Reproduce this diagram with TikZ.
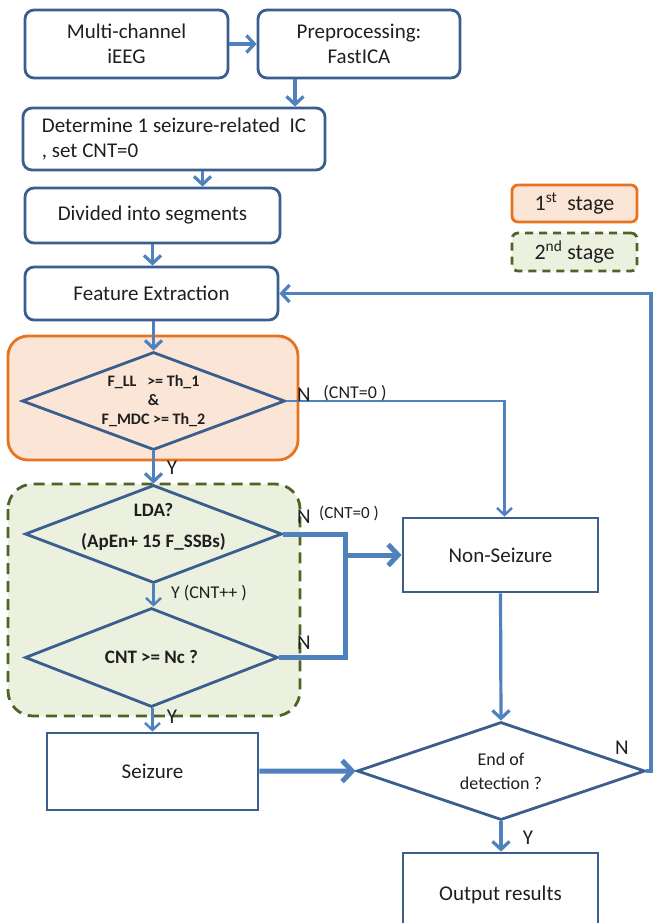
\documentclass[tikz,border=0pt]{standalone}
\usepackage{fontspec}
\setmainfont{Carlito}
\usepackage{xcolor}
\usetikzlibrary{shapes.geometric,arrows.meta}
\definecolor{boxblue}{HTML}{3A5F8E}
\definecolor{lineblue}{HTML}{4F81BD}
\definecolor{stageorange}{HTML}{E8731E}
\definecolor{stageorangefill}{HTML}{FBE5D6}
\definecolor{stagegreen}{HTML}{4F6228}
\definecolor{stagegreenfill}{HTML}{EBF1DE}
\definecolor{txt}{HTML}{1F1F1F}

\begin{document}
\begin{tikzpicture}[x=1pt,y=-1pt]
\tikzstyle{rbox} = [draw=boxblue,line width=2.8pt,rounded corners=9pt,text=txt,font=\fontsize{21}{25}\selectfont,align=center,inner sep=0];
\tikzstyle{sqbox} = [draw=boxblue,line width=2.8pt,text=txt,font=\fontsize{21}{25}\selectfont,align=center,inner sep=0];
\tikzstyle{decision} = [diamond,draw=boxblue,line width=2.8pt,inner sep=0];
\tikzstyle{arr} = [draw=lineblue,line width=3.2pt,-{Straight Barb[length=8pt,width=17pt]}];
\tikzstyle{thinarr} = [draw=lineblue,line width=2.4pt,-{Straight Barb[length=7pt,width=15pt]}];
\tikzstyle{thickarr} = [draw=lineblue,line width=5pt,-{Straight Barb[length=10pt,width=21pt]}];
\tikzstyle{yn} = [text=txt,font=\fontsize{21}{22}\selectfont,inner sep=0];
\tikzstyle{cnt} = [text=txt,font=\fontsize{18}{20}\selectfont,inner sep=0];
\useasboundingbox (0,0) rectangle (653,923);
\fill[white] (0,0) rectangle (653,923);
\draw[stageorange,fill=stageorangefill,line width=2.8pt,rounded corners=20pt] (8,336) rectangle (298,460);
\draw[stagegreen,fill=stagegreenfill,line width=2.8pt,dashed,dash pattern=on 11pt off 7pt,rounded corners=25pt] (8,484) rectangle (300,716);
\node [rbox,minimum width=203,minimum height=68] (iEEG) at (126.5,44) {Multi-channel\\iEEG};
\node [rbox,minimum width=202,minimum height=68] (prep) at (359,44) {Preprocessing:\\FastICA};
\node [rbox,minimum width=302,minimum height=62,align=left] (ic) at (174,139) {Determine 1 seizure-related~ IC\\, set CNT=0};
\node [rbox,minimum width=255,minimum height=55] (seg) at (152.5,215.5) {Divided into segments};
\node [rbox,minimum width=253,minimum height=53] (feat) at (151.5,293.5) {Feature Extraction};
\node [rbox,draw=stageorange,fill=stageorangefill,rounded corners=6pt,minimum width=125,minimum height=37,font=\fontsize{22}{25}\selectfont] (first) at (574.5,203.5) {1\textsuperscript{st}~ stage};
\node [rbox,draw=stagegreen,fill=stagegreenfill,dashed,dash pattern=on 8pt off 6pt,rounded corners=6pt,minimum width=125,minimum height=38,font=\fontsize{22}{25}\selectfont] (second) at (574.5,252) {2\textsuperscript{nd} stage};
\node [decision,minimum width=263,minimum height=98,label={[text=txt,font=\bfseries\fontsize{16}{19}\selectfont,align=center]center:{F\_LL~~ >= Th\_1\\\&\\F\_MDC >= Th\_2}}] (ll) at (153.5,401) {};
\node [decision,minimum width=257,minimum height=98,label={[text=txt,font=\bfseries\fontsize{19}{22}\selectfont,align=center,yshift=7pt]center:{LDA?\\[9pt](ApEn+ 15 F\_SSBs)}}] (lda) at (153.5,534) {};
\node [decision,minimum width=253,minimum height=99,label={[text=txt,font=\bfseries\fontsize{19}{22}\selectfont]center:{CNT >= Nc ?}}] (nc) at (151.5,657.5) {};
\node [sqbox,minimum width=195,minimum height=74] (non) at (500.5,555) {Non-Seizure};
\node [sqbox,minimum width=211,minimum height=77] (sz) at (152.5,771.5) {Seizure};
\node [decision,minimum width=288,minimum height=98,label={[text=txt,font=\fontsize{18}{24}\selectfont,align=center]center:{End of\\detection ?}}] (end) at (501,771) {};
\node [sqbox,minimum width=195,minimum height=84] (out) at (500.5,895) {Output results};
\coordinate (rt) at (651,0);
\coordinate (jn) at (345,555);
\draw [arr] (iEEG) -- (prep);
\draw [arr] ([xshift=-64]prep.south) -- ([xshift=-64]prep.south |- ic.north);
\draw [arr] ([xshift=50]seg.north |- ic.south) -- ([xshift=50]seg.north);
\draw [arr] (seg.south) -- (seg.south |- feat.north);
\draw [arr] (end.east) -- (end.east -| rt) |- (feat.east);
\draw [arr] (feat.south -| ll.north) -- (ll.north);
\draw [thinarr] (ll.east) -| ([xshift=4]non.north);
\draw [arr] (ll.south) -- (lda.north);
\draw [thickarr,-] (lda.east) -| (jn |- nc.east) -- (nc.east);
\draw [thickarr] (jn) -- (non.west);
\draw [thinarr] (lda.south) -- (lda.south |- nc.north);
\draw [thinarr] (nc.south -| sz.north) -- (sz.north);
\draw [thickarr] (sz) -- (end.west);
\draw [arr] (non.south) -- (end.north);
\draw [arr] (end.south) -- (end.south |- out.north);
\node [yn] (n1) at (304,395) {N};
\node [cnt] (c1) at (355,393) {(CNT=0 )};
\node [yn] (y1) at (172,468) {Y};
\node [yn] (n2) at (304,517) {N};
\node [cnt,font=\fontsize{17}{20}\selectfont] (c2) at (349,513) {(CNT=0 )};
\node [cnt] (y2) at (209,593) {Y (CNT++ )};
\node [yn] (n3) at (304,643) {N};
\node [yn] (y3) at (172,717) {Y};
\node [yn] (n4) at (622,748) {N};
\node [yn] (y4) at (528,838) {Y};
\end{tikzpicture}
\end{document}
